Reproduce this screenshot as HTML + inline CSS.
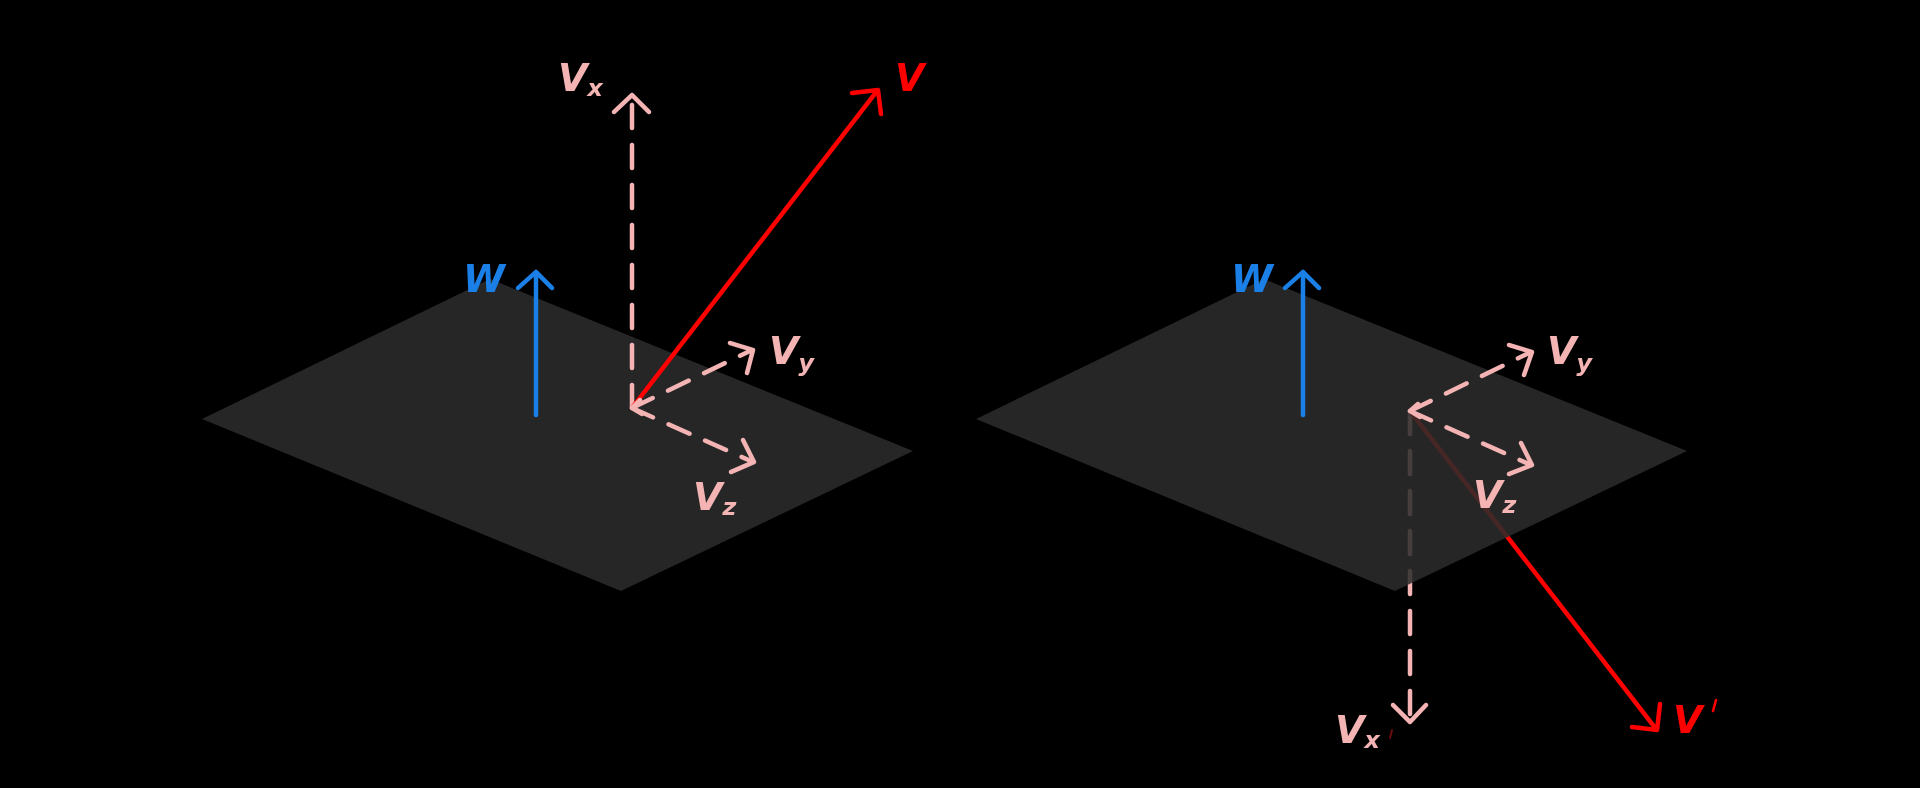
<!DOCTYPE html>
<html><head><meta charset="utf-8"><style>
html,body{margin:0;padding:0;background:#000;}
svg{display:block;}
text{font-family:"DejaVu Sans","Liberation Sans",sans-serif;font-style:italic;font-weight:bold;}
</style></head><body>
<svg width="1920" height="788" viewBox="0 0 1920 788" xmlns="http://www.w3.org/2000/svg">
<rect width="1920" height="788" fill="#000"/>
<g stroke-linecap="round" stroke-linejoin="round" fill="none" stroke-width="4.5">
<!-- LEFT -->
<polygon points="202,419 490,279 913,451 621,591" fill="#262626" stroke="none"/>
<line x1="536" y1="415" x2="536" y2="272" stroke="#1a7fe6"/>
<polyline points="518,288 536,272 552,288" stroke="#1a7fe6"/>
<line x1="632" y1="408" x2="632" y2="96" stroke="#f4b4b4" stroke-dasharray="23 17"/>
<polyline points="614,112 632,95 649,112" stroke="#f4b4b4"/>
<line x1="632" y1="408" x2="877" y2="91" stroke="#f00"/>
<polyline points="852,93 878,90 881,114" stroke="#f00"/>
<line x1="632" y1="408" x2="752" y2="350" stroke="#f4b4b4" stroke-dasharray="23 17"/>
<polyline points="730,343 753,350 747,373" stroke="#f4b4b4"/>
<line x1="632" y1="408" x2="753" y2="462" stroke="#f4b4b4" stroke-dasharray="23 17"/>
<polyline points="743,440 754,462 731,472" stroke="#f4b4b4"/>
<polyline points="640,400 632,408 642,414" stroke="#f4b4b4"/>
<!-- RIGHT -->
<line x1="1410" y1="411" x2="1410" y2="720" stroke="#f4b4b4" stroke-dasharray="23 17"/>
<polyline points="1393,705 1410,722 1426,705" stroke="#f4b4b4"/>
<line x1="1410" y1="411" x2="1656" y2="729" stroke="#f00"/>
<polyline points="1632,727 1657,730 1660,704" stroke="#f00"/>
<polygon points="976,419 1264,279 1687,451 1395,591" fill="#2c2c2c" fill-opacity="0.87" stroke="none"/>
<line x1="1303" y1="415" x2="1303" y2="272" stroke="#1a7fe6"/>
<polyline points="1285,288 1303,272 1319,288" stroke="#1a7fe6"/>
<line x1="1410" y1="411" x2="1531" y2="352" stroke="#f4b4b4" stroke-dasharray="23 17"/>
<polyline points="1509,345 1532,352 1524,375" stroke="#f4b4b4"/>
<line x1="1410" y1="411" x2="1531" y2="465" stroke="#f4b4b4" stroke-dasharray="23 17"/>
<polyline points="1521,443 1532,465 1509,474" stroke="#f4b4b4"/>
<polyline points="1418,404 1410,411 1420,417" stroke="#f4b4b4"/>
</g>
<g font-size="38">
<text x="463" y="292" fill="#1a7fe6">W</text>
<text x="558" y="91" fill="#f4b4b4">V<tspan font-size="24" dy="5">x</tspan></text>
<text x="895" y="91" fill="#f00">V</text>
<text x="769" y="364" fill="#f4b4b4">V<tspan font-size="24" dy="7">y</tspan></text>
<text x="693" y="510" fill="#f4b4b4">V<tspan font-size="24" dy="5">z</tspan></text>
<text x="1231" y="292" fill="#1a7fe6">W</text>
<text x="1547" y="364" fill="#f4b4b4">V<tspan font-size="24" dy="7">y</tspan></text>
<text x="1473" y="508" fill="#f4b4b4">V<tspan font-size="24" dy="5">z</tspan></text>
<text x="1335" y="743" fill="#f4b4b4">V<tspan font-size="24" dy="5">x</tspan></text>
<text x="1673" y="733" fill="#f00">V</text>
<line x1="1716" y1="700" x2="1713" y2="711" stroke="#f00" stroke-width="2.5" stroke-linecap="round"/>
<line x1="1392" y1="730" x2="1390" y2="738" stroke="#6a0a0a" stroke-width="2" stroke-linecap="round"/>
</g>
</svg>
</body></html>
